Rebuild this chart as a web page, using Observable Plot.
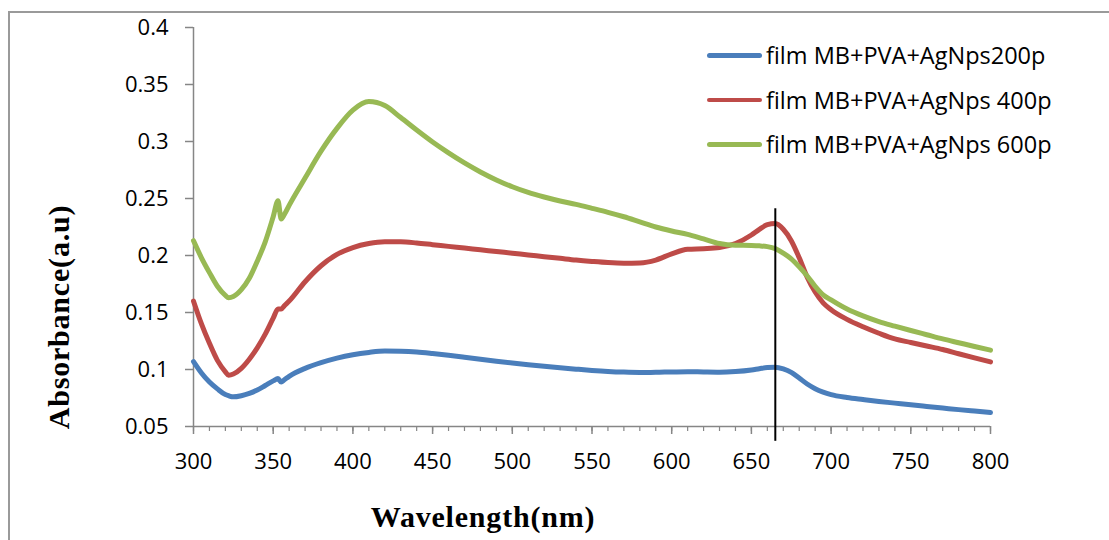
<!DOCTYPE html>
<html>
<head>
<meta charset="utf-8">
<script src="https://cdn.jsdelivr.net/npm/d3@7"></script>
<script src="https://cdn.jsdelivr.net/npm/@observablehq/plot@0.6"></script>
<style>
  html, body { margin: 0; padding: 0; background: #fff; }
  #chart { position: relative; width: 1109px; height: 540px; overflow: hidden; }
  #chart svg { position: absolute; left: 0; top: 0; }
  .legend { position: absolute; left: 707px; top: 33px; font-family: "Open Sans", sans-serif; font-size: 23.5px; color: #000; }
  .legend .item { display: flex; align-items: center; height: 44.5px; }
  .legend .swatch { width: 55px; height: 4.5px; border-radius: 2.5px; margin-right: 4px; }
  .title { font-family: "Liberation Serif", serif; font-weight: bold; font-size: 30px; letter-spacing: 0.8px; fill: #000; }
</style>
</head>
<body>
<div id="chart"></div>
<script>
// Wavelength grid (nm) shared by the three absorbance spectra
const wavelength = [300,305,310,315,320,322,325,330,335,340,345,350,353,355,357,360,370,380,390,400,410,420,430,440,450,460,470,480,490,500,510,520,530,540,550,560,570,580,590,600,610,620,630,640,650,655,660,665,670,675,680,685,690,695,700,710,720,730,740,750,760,770,780,790,800];

// Absorbance (a.u) per film
const abs200 = [0.107,0.097,0.089,0.083,0.078,0.077,0.076,0.077,0.079,0.082,0.086,0.090,0.092,0.089,0.091,0.094,0.1010,0.1060,0.1100,0.1130,0.1150,0.1162,0.1160,0.1153,0.1140,0.1125,0.1108,0.1090,0.1073,0.1057,0.1042,0.1028,0.1015,0.1003,0.0992,0.0983,0.0977,0.0974,0.0975,0.0979,0.0981,0.0978,0.0976,0.0982,0.0996,0.1007,0.1017,0.1020,0.1005,0.0975,0.0925,0.0873,0.0832,0.0802,0.0780,0.0755,0.0737,0.0720,0.0705,0.0690,0.0676,0.0662,0.0648,0.0635,0.0622];
const abs400 = [0.160,0.140,0.123,0.108,0.098,0.095,0.096,0.101,0.109,0.119,0.131,0.145,0.153,0.153,0.156,0.160,0.1770,0.1910,0.2010,0.2070,0.2105,0.2120,0.2120,0.2110,0.2095,0.2080,0.2065,0.2050,0.2035,0.2020,0.2005,0.1990,0.1975,0.1960,0.1948,0.1938,0.1933,0.1935,0.1960,0.2015,0.2055,0.2060,0.2070,0.2105,0.2180,0.2230,0.2270,0.2280,0.2230,0.2130,0.1980,0.1810,0.1680,0.1585,0.1525,0.1440,0.1375,0.1318,0.1268,0.1237,0.1206,0.1175,0.1138,0.1102,0.1067];
const abs600 = [0.213,0.198,0.185,0.173,0.165,0.163,0.164,0.170,0.180,0.195,0.212,0.234,0.248,0.232,0.236,0.2440,0.2680,0.2915,0.3115,0.3275,0.3350,0.3315,0.3210,0.3100,0.2995,0.2900,0.2812,0.2733,0.2663,0.2603,0.2553,0.2513,0.2478,0.2448,0.2414,0.2379,0.2340,0.2295,0.2250,0.2215,0.2185,0.2145,0.2105,0.2090,0.2088,0.2085,0.2078,0.2060,0.2020,0.1970,0.1900,0.1820,0.1730,0.1655,0.1610,0.1530,0.1470,0.1420,0.1380,0.1342,0.1305,0.1268,0.1235,0.1202,0.1170];

const seriesNames = ["film MB+PVA+AgNps200p", "film MB+PVA+AgNps 400p", "film MB+PVA+AgNps 600p"];
const seriesColors = ["#4a7ebb", "#be4b48", "#98b954"];

// Marker line at the absorption peak
const markerWavelength = [665];
const markerSpan = [0.241, 0.037];

const xMajorTicks = d3.range(300, 801, 50);
const xMinorTicks = d3.range(300, 801, 10);
const yTicks = [0.05, 0.1, 0.15, 0.2, 0.25, 0.3, 0.35, 0.4];

const rows = [abs200, abs400, abs600].flatMap((vals, s) =>
  vals.map((v, i) => ({wavelength: wavelength[i], absorbance: v, series: seriesNames[s]}))
);

const axisGray = "#868686";

const plot = Plot.plot({
  width: 1109,
  height: 540,
  marginLeft: 193,
  marginRight: 119,
  marginTop: 27,
  marginBottom: 114,
  style: {fontFamily: "Open Sans, sans-serif", fontSize: "22px", color: "#000", background: "transparent"},
  x: {domain: [300, 800]},
  y: {domain: [0.05, 0.4]},
  color: {domain: seriesNames, range: seriesColors},
  marks: [
    Plot.ruleX([300], {stroke: axisGray, strokeWidth: 1.5}),
    Plot.ruleY([0.05], {stroke: axisGray, strokeWidth: 1.5}),
    Plot.axisY({ticks: yTicks, tickSize: 8, tickPadding: 17, stroke: axisGray, strokeWidth: 1.5, label: null, tickFormat: d => String(+d.toFixed(2)), fill: "#000"}),
    Plot.axisX({ticks: xMinorTicks, tickSize: 5, text: null, stroke: axisGray, strokeWidth: 1.2, label: null}),
    Plot.axisX({ticks: xMajorTicks, tickSize: 8, tickPadding: 19, stroke: axisGray, strokeWidth: 1.5, label: null, tickFormat: d => String(d), fill: "#000"}),
    Plot.line(rows, {x: "wavelength", y: "absorbance", z: "series", stroke: "series", strokeWidth: 5, curve: "monotone-x"}),
    Plot.ruleX(markerWavelength, {y1: markerSpan[0], y2: markerSpan[1], stroke: "#000", strokeWidth: 2})
  ]
});

const chart = document.getElementById("chart");
chart.appendChild(plot);

// Chart-area frame and axis titles
const svg = d3.select(plot);
svg.insert("path", ":first-child")
  .attr("d", "M9,545 V12 H1115")
  .attr("fill", "none").attr("stroke", "#9a9a9a").attr("stroke-width", 2);
svg.append("text").attr("class", "title")
  .attr("transform", "translate(69,317) rotate(-90)")
  .attr("text-anchor", "middle").text("Absorbance(a.u)");
svg.append("text").attr("class", "title")
  .attr("x", 483).attr("y", 527)
  .attr("text-anchor", "middle").text("Wavelength(nm)");

// Legend
const legend = document.createElement("div");
legend.className = "legend";
seriesNames.forEach((name, i) => {
  const item = document.createElement("div");
  item.className = "item";
  const sw = document.createElement("div");
  sw.className = "swatch";
  sw.style.background = seriesColors[i];
  const label = document.createElement("span");
  label.textContent = name;
  item.appendChild(sw);
  item.appendChild(label);
  legend.appendChild(item);
});
chart.appendChild(legend);
</script>
</body>
</html>
